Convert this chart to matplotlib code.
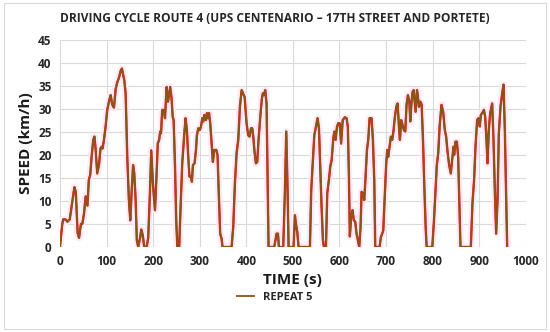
import matplotlib
matplotlib.use("Agg")
import matplotlib.pyplot as plt
from matplotlib.patches import Rectangle

title = "DRIVING CYCLE ROUTE 4 (UPS CENTENARIO – 17TH STREET AND PORTETE)"
series_name = "REPEAT 5"
x_label = "TIME (s)"
y_label = "SPEED (km/h)"

time_s = [0, 5, 7, 12, 16, 21, 25, 31, 34, 38, 41, 45, 48, 52, 55, 59, 62, 65, 68, 71.5, 74, 76.5,
          80, 84, 87, 89.5, 91.5, 94.5, 98, 101.5, 106, 109, 112, 116, 119.5, 123, 127, 130, 133,
          135, 138, 141, 144.5, 148, 151, 154, 157, 159.5, 162.5, 165, 168, 172, 174.5, 177.5, 181,
          186, 189.5, 193, 196, 200, 204, 207.5, 210, 213, 215, 217, 219.5, 223, 225.5, 229, 232,
          234, 236.7, 239.6, 242, 244, 247, 249.6, 252, 256, 259, 262.5, 267, 269.6, 272.5, 275.4,
          278, 281, 283.3, 285.4, 289, 292, 294, 297, 300, 302.6, 305.5, 307.6, 310, 313.4, 315.5,
          317.6, 320, 322.6, 325.5, 328.3, 331.2, 335.5, 338.3, 341.2, 344, 347, 349, 368.4, 372,
          375.6, 379.2, 382.8, 386.3, 390, 393, 396.5, 400.6, 404, 407, 410, 412.7, 415, 417.7,
          420.6, 423.5, 426.3, 430, 433.5, 435.6, 437.8, 440.6, 443.5, 445.7, 447.8, 460, 463, 465,
          468, 470, 479.3, 483, 485.8, 488.6, 490.8, 501.5, 504.4, 506.5, 509.4, 512.2, 536.6,
          539.4, 543, 546, 549.5, 553, 556, 558.8, 561.6, 564.5, 566.7, 571, 573.8, 577.4, 580.3,
          583.2, 586.8, 589, 591.8, 594.6, 597.4, 600.5, 603.5, 607, 611.6, 615.2, 618, 620.2,
          622.3, 625.2, 628, 631, 633.8, 636.7, 639.6, 642.5, 645.3, 647.5, 650.4, 653.2, 656.1,
          659, 661.8, 664.7, 669, 671.8, 674.7, 676.8, 686.1, 689, 691.8, 694, 696.8, 700.4, 702.6,
          704.7, 707.5, 710.4, 713.3, 716.2, 719, 722, 724.8, 727.7, 729.8, 732.6, 735.5, 738.4,
          741.2, 744.1, 747, 750, 752, 755, 757, 759.2, 761.4, 763.5, 766.4, 768.5, 770.7, 773.5,
          776.4, 779.3, 782.2, 785, 787.2, 799.3, 802.9, 806, 809, 812, 815, 819, 822.6, 826.2,
          829, 832, 835.5, 839, 842, 844.8, 846.2, 849, 852, 854.8, 857, 859.8, 882, 885.5, 889,
          892, 895.6, 898.4, 901.3, 903.5, 906.3, 910, 912.8, 915.6, 917.8, 920.6, 923.5, 927.8,
          930.7, 933.5, 936.4, 939.3, 942.1, 945.7, 949.3, 952.2, 955, 957.9, 960]
speed_kmh = [0, 5, 6, 6, 5.5, 6, 8.8, 13, 12, 3, 2, 5, 5, 7.5, 11, 9, 14.6, 15.7, 19.6, 23.3, 24, 21.4,
             16, 18, 21.4, 21.8, 21.4, 23.3, 26.2, 29.8, 32, 33, 31, 30.3, 34.3, 35.8, 36.9, 38.2, 38.8,
             37.8, 36.3, 33.4, 19.6, 10.2, 5.8, 12.3, 17.8, 16, 10.2, 1.5, 0, 2, 3.8, 2.7, 0,
             0, 2, 11.4, 21, 13.1, 8, 16, 22.5, 23.3, 25.1, 24.7, 29.8, 29.8, 28, 34.8, 31.6,
             33, 34.8, 32.3, 28.3, 27.6, 17.5, 5.8, 0, 0, 8.8, 18.2, 24.7, 28, 25.4, 19.6,
             15.3, 15.3, 14.2, 17.8, 18.2, 21.1, 24.3, 25.8, 25.4, 26.1, 28, 27.3, 28.7, 27.6, 29.1,
             28, 29.1, 26.9, 22.5, 18.5, 21.1, 21.1, 20, 10.9, 2.9, 1.8, 0, 0, 4.4,
             13.9, 20.4, 23.3, 30.5, 34.1, 33.4, 32.6, 26.9, 24.3, 24, 25.8, 25.8, 24, 20.7,
             18.2, 18.5, 23.3, 28.3, 32.3, 33.4, 33, 34.1, 31.2, 16, 0, 0, 1.8, 2.9,
             2.9, 0, 0, 12.4, 25.1, 12.4, 0, 0, 6.9, 5.1, 3.3, 0, 0,
             12.4, 18.9, 24.3, 26.1, 28, 25.8, 17.5, 8.8, 1.5, 0, 0, 11.7, 14.6, 17.5,
             18.9, 23.6, 25.1, 23.3, 26.1, 26.9, 26.9, 22.5, 27.6, 28.2, 28, 26.1, 16,
             2.3, 6.6, 8, 5.8, 5.5, 2.9, 1.5, 0, 4.4, 12, 11.6, 10.2, 15.3,
             21.1, 23.3, 28, 28, 23.3, 14.6, 0, 0, 2.2, 2.9, 3.6, 10.2, 18.2, 21.1,
             19.6, 21.8, 24, 23.3, 25.4, 28.3, 30.5, 31.2, 26.1, 23.3, 27.6, 26.5, 25.4,
             25.1, 31, 33, 31.6, 27.3, 31.9, 33.7, 34.1, 31.6, 29.4, 34.1, 32.6, 30.5, 31.6,
             31, 23.3, 13.1, 4.4, 0, 0, 5.8, 12, 17.8, 20.4, 26.2, 30.9, 29.4, 25.4,
             24, 20.7, 17.8, 16, 18.9, 21.8, 20, 22.9, 22.9, 19.6, 10.9, 0, 0, 9.5, 14.6,
             21.8, 27.6, 28, 26.2, 28.7, 29.1, 29.8, 28.3, 23.3, 18.2, 25.4, 29.1, 31.2,
             23.3, 12.4, 2.9, 10.2, 24.7, 30.5, 33.4, 35.3, 25.4, 10.9, 0]

x_ticks = list(range(0, 1001, 100))
y_ticks = list(range(0, 46, 5))

plt.rcParams['font.family'] = ['Open Sans', 'DejaVu Sans']

fig = plt.figure(figsize=(5.5, 3.32), dpi=100)
fig.patch.set_facecolor('white')
fig.add_artist(Rectangle((0.008, 0.01), 0.984, 0.98, transform=fig.transFigure,
                         fill=False, edgecolor='#d9d9d9', linewidth=0.8))

ax = fig.add_axes([0.109, 0.256, 0.847, 0.6235])
ax.plot(time_s, speed_kmh, color='#fdeaf8', linewidth=5, solid_joinstyle='round',
        solid_capstyle='round', zorder=2)
ax.plot(time_s, speed_kmh, color='#e8201c', linewidth=1.7, zorder=3)
ax.plot(time_s, speed_kmh, color='#8c5418', linewidth=1.3, zorder=4, label=series_name)

ax.set_xlim(0, 1000)
ax.set_ylim(0, 45)
ax.set_xticks(x_ticks)
ax.set_yticks(y_ticks)
ax.grid(True, color='#d9d9d9', linewidth=0.8, zorder=0)
ax.set_axisbelow(True)
for s in ax.spines.values():
    s.set_visible(False)
ax.tick_params(length=0, labelsize=8.5, pad=6, labelcolor='#262626')
for lab in ax.get_xticklabels() + ax.get_yticklabels():
    lab.set_fontweight('bold')

ax.set_xlabel(x_label, fontsize=11, fontweight='bold', labelpad=3, color='#1a1a1a')
ax.set_ylabel(y_label, fontsize=11, fontweight='bold', labelpad=4, color='#1a1a1a')
fig.text(0.5, 0.945, title, ha='center', va='center', fontsize=8.6, fontweight='bold', color='#262626')

leg = fig.legend(loc='center', bbox_to_anchor=(0.5, 0.105), frameon=False,
                 handlelength=1.5, prop={'weight': 'bold', 'size': 8})
for t in leg.get_texts():
    t.set_color('#262626')

fig.savefig('out.png', dpi=100, facecolor='white')
